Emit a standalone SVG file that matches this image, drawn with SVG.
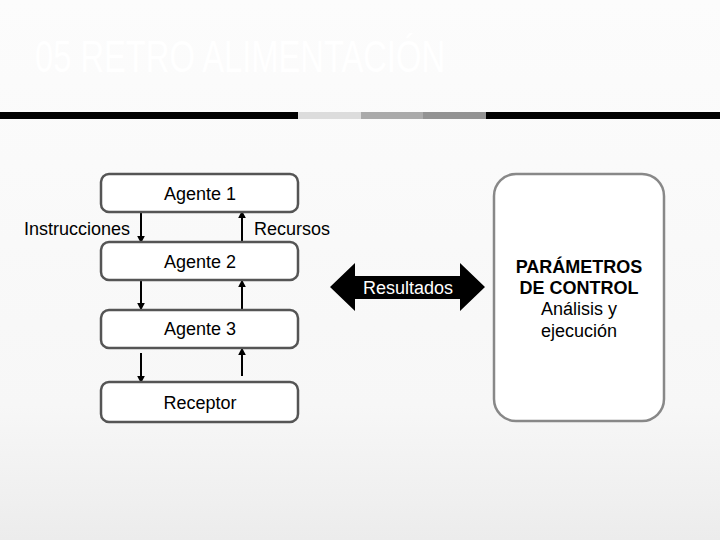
<svg xmlns="http://www.w3.org/2000/svg" width="720" height="540" viewBox="0 0 720 540">
<defs>
<linearGradient id="bg" x1="0" y1="0" x2="0" y2="1">
<stop offset="0" stop-color="#fcfcfc"/>
<stop offset="0.75" stop-color="#f7f7f7"/>
<stop offset="1" stop-color="#ececec"/>
</linearGradient>
<marker id="ah" viewBox="0 0 10 10" refX="8" refY="5" markerWidth="4" markerHeight="4" orient="auto">
<path d="M0,0 L10,5 L0,10 z" fill="#000"/>
</marker>
<style>
.box{fill:#fff;stroke:#555;stroke-width:2.5}
.t{font-family:"Liberation Sans",Arial,sans-serif;font-size:18px;fill:#000;text-anchor:middle}
.c{stroke:#000;stroke-width:2;fill:none;marker-end:url(#ah)}
</style>
</defs>
<rect width="720" height="540" fill="url(#bg)"/>
<text x="35" y="72" font-family="Liberation Sans,Arial,sans-serif" font-size="45" fill="#fff" textLength="410" lengthAdjust="spacingAndGlyphs">05 RETRO ALIMENTACIÓN</text>
<rect x="0" y="112" width="298" height="7" fill="#000"/>
<rect x="298" y="112" width="63" height="7" fill="#dcdcdc"/>
<rect x="361" y="112" width="62" height="7" fill="#aaaaaa"/>
<rect x="423" y="112" width="63" height="7" fill="#929292"/>
<rect x="486" y="112" width="234" height="7" fill="#000"/>

<g id="connectors">
<line class="c" x1="141" y1="212" x2="141" y2="242"/>
<line class="c" x1="242" y1="242" x2="242" y2="212"/>
<line class="c" x1="141" y1="281" x2="141" y2="309"/>
<line class="c" x1="242" y1="309" x2="242" y2="281"/>
<line class="c" x1="141" y1="353" x2="141" y2="382"/>
<line class="c" x1="242" y1="376" x2="242" y2="349"/>
<text class="t" x="77" y="235">Instrucciones</text>
<text class="t" x="292" y="235">Recursos</text>
</g>

<g id="agente1"><rect class="box" x="101" y="174" width="197" height="38" rx="8"/><text class="t" x="200" y="200">Agente 1</text></g>
<g id="agente2"><rect class="box" x="101" y="242" width="197" height="38" rx="8"/><text class="t" x="200" y="268">Agente 2</text></g>
<g id="agente3"><rect class="box" x="101" y="310" width="197" height="38" rx="8"/><text class="t" x="200" y="335">Agente 3</text></g>
<g id="receptor"><rect class="box" x="101" y="382" width="197" height="40" rx="8"/><text class="t" x="200" y="409">Receptor</text></g>

<g id="resultados">
<path d="M330,287 L355,263 L355,276 L460,276 L460,263 L485,287 L460,311 L460,299 L355,299 L355,311 z" fill="#000"/>
<text class="t" x="408" y="294" style="fill:#fff">Resultados</text>
</g>

<g id="control">
<rect x="494" y="174" width="170" height="247" rx="22" fill="#fff" stroke="#888" stroke-width="2.5"/>
<text class="t" x="579" y="273" font-weight="bold">PARÁMETROS</text>
<text class="t" x="579" y="294" font-weight="bold">DE CONTROL</text>
<text class="t" x="579" y="315">Análisis y</text>
<text class="t" x="579" y="337">ejecución</text>
</g>
</svg>
